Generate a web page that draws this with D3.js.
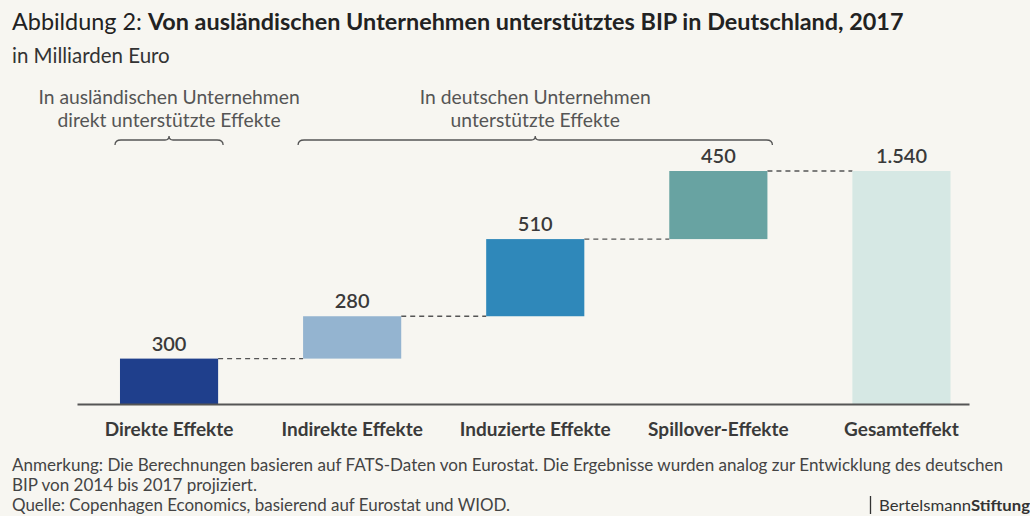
<!DOCTYPE html>
<html>
<head>
<meta charset="utf-8">
<script src="https://cdn.jsdelivr.net/npm/d3@7"></script>
<style>
  body { margin: 0; background: #f7f6f1; }
  svg { display: block; font-family: Lato, "Open Sans", sans-serif; }
</style>
</head>
<body>
<svg></svg>
<script>
const [svgWidth, svgHeight] = [1030, 516];

const categories = ['Direkte Effekte', 'Indirekte Effekte', 'Induzierte Effekte', 'Spillover-Effekte', 'Gesamteffekt'];
const values = [300, 280, 510, 450, 1540];
const valueLabels = ['300', '280', '510', '450', '1.540'];
const colors = ['#1f3f8c', '#94b4d0', '#2f88ba', '#68a3a2', '#d6e8e4'];
const isTotal = [false, false, false, false, true];

const groups = [
  { lines: ['In ausländischen Unternehmen', 'direkt unterstützte Effekte'], from: 0, to: 0 },
  { lines: ['In deutschen Unternehmen', 'unterstützte Effekte'], from: 1, to: 3 }
];

const svg = d3.select('svg')
  .attr('width', svgWidth)
  .attr('height', svgHeight);

svg.append('rect')
  .attr('width', svgWidth)
  .attr('height', svgHeight)
  .attr('fill', '#f7f6f1');

// title
const title = svg.append('text')
  .attr('x', 12)
  .attr('y', 30)
  .attr('font-size', 23.4)
  .attr('fill', '#222');
title.append('tspan').text('Abbildung 2: ');
title.append('tspan').attr('font-weight', 'bold').text('Von ausländischen Unternehmen unterstütztes BIP in Deutschland, 2017');

svg.append('text')
  .attr('x', 12)
  .attr('y', 63)
  .attr('font-size', 20.5)
  .attr('fill', '#333')
  .text('in Milliarden Euro');

// waterfall data
let run = 0;
const data = categories.map((c, i) => {
  const start = isTotal[i] ? 0 : run;
  const end = isTotal[i] ? values[i] : run + values[i];
  if (!isTotal[i]) run = end;
  return { cat: c, start, end, label: valueLabels[i], color: colors[i] };
});

const baseY = 404;
const x = d3.scaleBand()
  .domain(categories)
  .range([77.5, 993])
  .paddingInner(0.464)
  .paddingOuter(0.232);
const y = d3.scaleLinear()
  .domain([0, 1540])
  .range([baseY, 171]);

// connectors
const conn = svg.append('g');
data.slice(0, -1).forEach((d, i) => {
  const next = data[i + 1];
  conn.append('line')
    .attr('x1', x(d.cat) + x.bandwidth())
    .attr('x2', x(next.cat))
    .attr('y1', y(d.end))
    .attr('y2', y(d.end))
    .attr('stroke', '#555')
    .attr('stroke-width', 1.4)
    .attr('stroke-dasharray', '5,4');
});

svg.append('g')
  .selectAll('rect')
  .data(data)
  .join('rect')
  .attr('x', d => x(d.cat))
  .attr('y', d => y(d.end))
  .attr('width', x.bandwidth())
  .attr('height', d => y(d.start) - y(d.end))
  .attr('fill', d => d.color);

svg.append('g')
  .selectAll('text')
  .data(data)
  .join('text')
  .attr('x', d => x(d.cat) + x.bandwidth() / 2)
  .attr('y', d => y(d.end) - 8)
  .attr('text-anchor', 'middle')
  .attr('font-size', 20)
  .attr('font-weight', 600)
  .attr('fill', '#3a3a3a')
  .text(d => d.label);

// axis
svg.append('line')
  .attr('x1', x.range()[0])
  .attr('x2', x(categories[categories.length - 1]) + x.bandwidth() + 19)
  .attr('y1', baseY + 0.5)
  .attr('y2', baseY + 0.5)
  .attr('stroke', '#555')
  .attr('stroke-width', 2);

svg.append('g')
  .selectAll('text')
  .data(categories)
  .join('text')
  .attr('x', d => x(d) + x.bandwidth() / 2)
  .attr('y', 436)
  .attr('text-anchor', 'middle')
  .attr('font-size', 19)
  .attr('font-weight', 'bold')
  .attr('fill', '#3a3a3a')
  .text(d => d);

// group braces
const braceY = 140;
groups.forEach(g => {
  const x0 = x(categories[g.from]) - 5;
  const x1 = x(categories[g.to]) + x.bandwidth() + 5;
  const xm = (x0 + x1) / 2;
  const r = 4;
  svg.append('path')
    .attr('d', `M${x0},${braceY + 5} Q${x0},${braceY} ${x0 + r + 2},${braceY} L${xm - r},${braceY} Q${xm},${braceY} ${xm},${braceY - 4} Q${xm},${braceY} ${xm + r},${braceY} L${x1 - r - 2},${braceY} Q${x1},${braceY} ${x1},${braceY + 5}`)
    .attr('fill', 'none')
    .attr('stroke', '#555')
    .attr('stroke-width', 1.3);
  svg.append('text')
    .attr('text-anchor', 'middle')
    .attr('font-size', 19.3)
    .attr('fill', '#555')
    .selectAll('tspan')
    .data(g.lines)
    .join('tspan')
    .attr('x', xm)
    .attr('y', (d, i) => 104 + i * 23)
    .text(d => d);
});

// footer
const notes = [
  'Anmerkung: Die Berechnungen basieren auf FATS-Daten von Eurostat. Die Ergebnisse wurden analog zur Entwicklung des deutschen',
  'BIP von 2014 bis 2017 projiziert.',
  'Quelle: Copenhagen Economics, basierend auf Eurostat und WIOD.'
];
const noteWidths = [991, 245, 498];
svg.append('g')
  .selectAll('text')
  .data(notes)
  .join('text')
  .attr('x', 12)
  .attr('y', (d, i) => 471 + i * 20)
  .attr('font-size', 17)
  .attr('fill', '#444')
  .attr('textLength', (d, i) => noteWidths[i])
  .attr('lengthAdjust', 'spacingAndGlyphs')
  .text(d => d);

svg.append('line')
  .attr('x1', 870.5).attr('x2', 870.5)
  .attr('y1', 496).attr('y2', 514)
  .attr('stroke', '#333')
  .attr('stroke-width', 1.3);
const logo = svg.append('text')
  .attr('x', 879)
  .attr('y', 511)
  .attr('font-size', 15)
  .attr('fill', '#333')
  .attr('textLength', 151)
  .attr('lengthAdjust', 'spacingAndGlyphs');
logo.append('tspan').text('Bertelsmann');
logo.append('tspan').attr('font-weight', 'bold').text('Stiftung');
</script>
</body>
</html>
